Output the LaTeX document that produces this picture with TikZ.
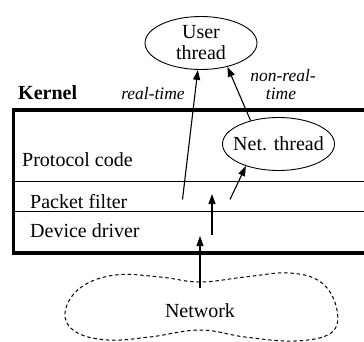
\documentclass[tikz,border=0pt]{standalone}
\usepackage{fontspec}
\setmainfont{Liberation Serif}
\usetikzlibrary{shapes.geometric,arrows.meta}
\begin{document}
\begin{tikzpicture}[x=1pt,y=-1pt,
  thr/.style={ellipse,draw,line width=0.9pt,minimum width=112pt,minimum height=53pt,inner sep=0pt,align=center,font=\fontsize{20}{21}\selectfont},
  lbl/.style={font=\fontsize{20}{22}\selectfont,inner sep=0pt},
  ital/.style={font=\fontsize{17.5}{19}\selectfont\itshape,inner sep=0pt,anchor=base},
  arr/.style={line width=1.1pt,-{Triangle[length=10pt,width=7pt]}},
  sep/.style={line width=0.9pt},
  kbox/.style={line width=3.5pt},
  cloud/.style={line width=1pt,dash pattern=on 3.5pt off 2.8pt}]
\useasboundingbox (0,0) rectangle (364,342);
% kernel box
\draw[kbox] (364,110) -- (13.5,110) -- (13.5,253) -- (364,253);
\draw[sep] (13.5,181.7) -- (364,181.7);
\draw[sep] (13.5,211.7) -- (364,211.7);
% labels
\node[lbl,font=\fontsize{20}{22}\selectfont\bfseries,anchor=base west] (kernel) at (18,100) {Kernel};
\node[ital] (rtl) at (153,100) {real-time};
\node[ital] (nrt1) at (283,82) {non-real-};
\node[ital] (nrt2) at (281,100) {time};
\node[lbl,anchor=base west] (proto) at (22,167) {Protocol code};
\node[lbl,anchor=base west] (pfilt) at (30,208) {Packet filter};
\node[lbl,anchor=base west] (ddrv) at (30,237) {Device driver};
% threads
\node[thr] (user) at (201,43) {\makebox[0pt]{User}\\\makebox[0pt]{thread}};
\node[thr] (net) at (278.5,144) {\makebox[0pt]{Net. thread}};
% cloud
\draw[cloud] plot[smooth cycle, tension=0.65] coordinates {(65,313) (80,288) (115,275) (160,277) (200,282) (245,277) (290,273) (322,283) (337,310) (331,333) (295,341) (245,337) (200,330) (150,337) (108,340) (76,332)};
\node[lbl,anchor=base] (network) at (200,317) {Network};
% connectors
\coordinate (rt) at (182.5,199.5);
\coordinate (pf) at (230,199.5);
\coordinate (pa) at (212,235);
\coordinate (pb) at (212,194);
\coordinate (na) at (200,288);
\coordinate (nb) at (200,236);
\draw[arr] (rt) -- (user);
\draw[arr] (net.140) -- (user.-42);
\draw[arr] (pf) -- (net.-146);
\draw[arr] (pa) -- (pb);
\draw[arr] (na) -- (nb);
\end{tikzpicture}
\end{document}
